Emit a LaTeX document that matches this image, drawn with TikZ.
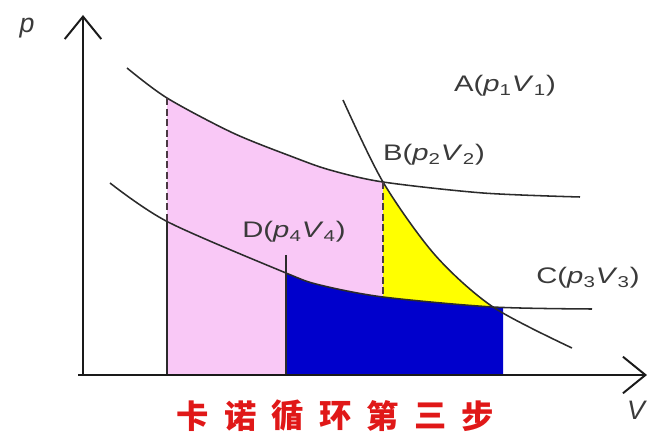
\documentclass[tikz,border=0pt]{standalone}
\usepackage{fontspec}
\setmainfont{Liberation Sans}
\newfontfamily\cjk{Noto Sans CJK SC}
\usepackage{graphicx}
\usepackage{xcolor}
\definecolor{curveln}{HTML}{2B2B2B}
\definecolor{axisln}{HTML}{1A1A1A}
\definecolor{dashln}{HTML}{4A3A42}
\definecolor{areapink}{HTML}{F9C8F6}
\definecolor{areayellow}{HTML}{FFFF00}
\definecolor{areablue}{HTML}{0000CC}
\definecolor{textmain}{HTML}{3A3A3A}
\definecolor{titlered}{HTML}{E01818}
\usetikzlibrary{arrows.meta, positioning}
\newcommand\wide[1]{\scalebox{1.3}[1]{#1}}
\newcommand\pv[1]{\textit{p}\textsubscript{#1}\textit{V}\textsubscript{#1}}

\begin{document}
\begin{tikzpicture}[
        x=0.025cm, y=-0.025cm,
        curve/.style={
            draw=curveln,
            line width=1.1pt
        },
        axis/.style={
            draw=axisln,
            line width=1.4pt,
            -{Straight Barb[length=16pt, width=26pt, line width=1.4pt]}
        },
        guide/.style={
            draw=dashln,
            line width=1.4pt,
            dash pattern=on 5pt off 2.5pt
        },
        lbl/.style={
            font=\fontsize{16}{18}\selectfont\color{textmain},
            inner sep=0pt
        },
        title/.style={
            font=\cjk\bfseries\fontsize{23}{23}\selectfont\color{titlered},
            inner sep=0pt
        },
        upperiso/.style={insert path={-- plot[smooth] coordinates {(127,68) (167,98) (233,133) (293,157) (330,170) (383,182) (483,193) (580,197)}}},
        loweriso/.style={insert path={-- plot[smooth] coordinates {(110,183) (168,222) (286,273) (320,285) (383,297) (493,307) (592,309)}}},
        adiabat/.style={insert path={-- plot[smooth] coordinates {(343,100) (383,182) (435,255) (493,307) (572,348)}}}
    ]
    \useasboundingbox (0,0) rectangle (647,445);

    % Points
    \coordinate (O) at (83,375);
    \coordinate (ytip) at (83,15);
    \coordinate (xstart) at (78,375);
    \coordinate (xtip) at (647,375);
    \coordinate (B) at (383,182);
    \coordinate (C) at (493,307);
    \coordinate (D) at (286,273);
    \coordinate (Dtop) at (286,255);
    \coordinate (Dbase) at (286,375);
    \coordinate (V1top) at (167,98);
    \coordinate (V1low) at (167,222);
    \coordinate (V1base) at (167,375);
    \coordinate (V2low) at (383,297);

    % Areas
    \begin{scope}
        \clip (167,0) rectangle (383,375);
        \fill[areapink] (127,375) [upperiso] -- (580,375) -- cycle;
    \end{scope}
    \begin{scope}
        \clip (343,375) [adiabat] -- (572,375) -- cycle;
        \fill[areayellow] (383,0) rectangle (503,375);
    \end{scope}
    \begin{scope}
        \clip (286,0) rectangle (503,375);
        \fill[areablue] (110,375) [loweriso] -- (592,375) -- cycle;
    \end{scope}

    % Curves
    \draw[curve] (127,68) [upperiso];
    \draw[curve] (110,183) [loweriso];
    \draw[curve] (343,100) [adiabat];

    % Volume lines
    \draw[guide] (V1top) -- (V1low);
    \draw[curve] (V1low) -- (V1base);
    \draw[guide] (B) -- (V2low);
    \draw[curve] (Dtop) -- (Dbase);

    % Axes
    \draw[axis] (O) -- (ytip);
    \draw[axis] (xstart) -- (xtip);
    \node[lbl, font=\fontsize{19}{19}\selectfont\itshape\color{textmain}] (plabel) at (27,28) {p};
    \node[lbl, font=\fontsize{19}{19}\selectfont\itshape\color{textmain}] (vlabel) at (636,410) {V};

    % State labels
    \node[lbl] (labA) at (505,86) {\wide{A(\pv{1})}};
    \node[lbl] (labB) at (434,155) {\wide{B(\pv{2})}};
    \node[lbl] (labC) at (588,278) {\wide{C(\pv{3})}};
    \node[lbl] (labD) at (294,232) {\wide{D(\pv{4})}};

    % Title
    \foreach \ch [count=\i from 0] in {卡,诺,循,环,第,三,步}
        \node[title] (t\i) at (193+47.5*\i,416) {\ch};

    \end{tikzpicture}
\end{document}
